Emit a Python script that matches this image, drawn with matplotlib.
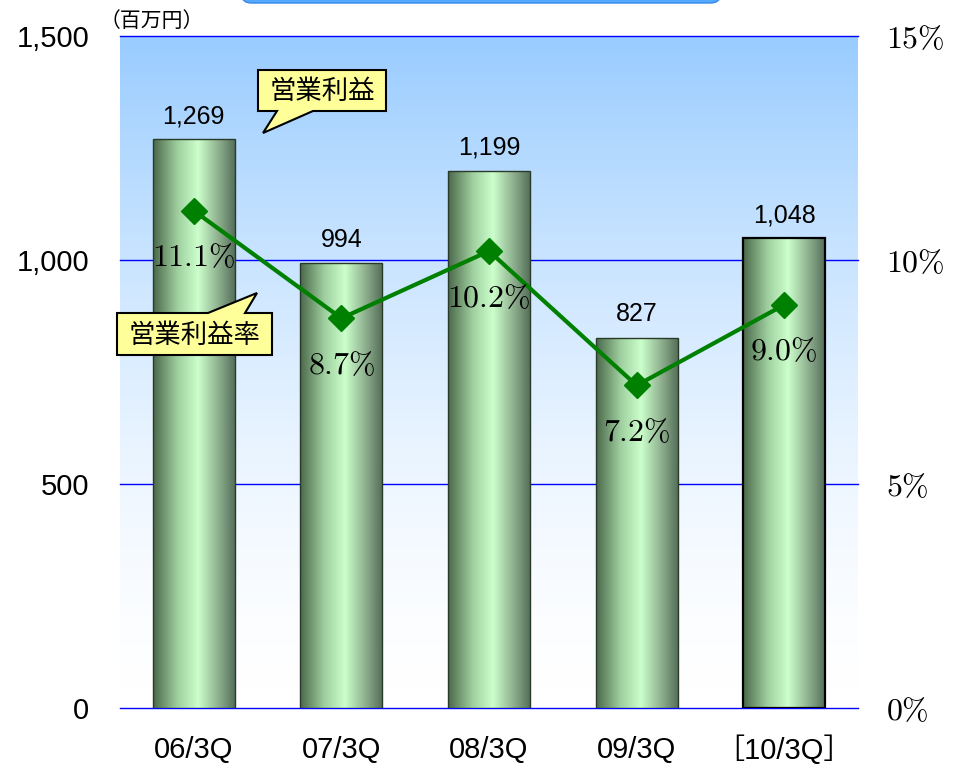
import matplotlib.pyplot as plt
import numpy as np
from matplotlib.patches import Polygon, FancyBboxPatch
from matplotlib.colors import LinearSegmentedColormap

plt.rcParams['mathtext.fontset'] = 'cm'

# data
categories = ["06/3Q", "07/3Q", "08/3Q", "09/3Q", "［10/3Q］"]
profit = [1269, 994, 1199, 827, 1048]
margin = [11.1, 8.7, 10.2, 7.2, 9.0]
profit_labels = ["1,269", "994", "1,199", "827", "1,048"]
left_ticks = [0, 500, 1000, 1500]
left_tick_labels = ["0", "500", "1,000", "1,500"]
right_ticks = [0, 5, 10, 15]

W, H = 968, 769
fig = plt.figure(figsize=(W / 100, H / 100), dpi=100)
ax = fig.add_axes([120 / W, 1 - 708 / H, 738 / W, 672 / H])

def px(x, y):
    return (x / W, 1 - y / H)

# background gradient (white at bottom to light blue at top)
bg = LinearSegmentedColormap.from_list("bg", ["#ffffff", "#99ccff"])
grad = (np.linspace(0, 1, 256) ** 1.6).reshape(-1, 1)
ax.imshow(grad, aspect="auto", cmap=bg, origin="lower", vmin=0, vmax=1,
          extent=[-0.5, 4.5, 0, 1500], zorder=0)

for t in left_ticks:
    ax.axhline(t, color="#0000ff", lw=1, zorder=1, clip_on=False)

# bars with horizontal gradient
barcm = LinearSegmentedColormap.from_list(
    "bar", [(0, "#4a684a"), (0.3, "#9fcf9f"), (0.55, "#ccffcc"),
            (0.8, "#8fb08f"), (1, "#55705a")])
hgrad = np.linspace(0, 1, 256).reshape(1, -1)
bw = 0.555
x = np.arange(len(categories))
bars = ax.bar(x, profit, width=bw, facecolor="none", zorder=3)
for i, b in enumerate(bars):
    im = ax.imshow(hgrad, aspect="auto", cmap=barcm,
                   extent=[b.get_x(), b.get_x() + bw, 0, b.get_height()], zorder=2)
    im.set_clip_path(b)
    last = i == len(bars) - 1
    b.set_edgecolor("#000000" if last else "#2a3a2a")
    b.set_linewidth(1.6 if last else 1)
    ax.annotate(profit_labels[i], (x[i], profit[i]), xytext=(0, 8),
                textcoords="offset points", ha="center", va="bottom",
                fontsize=18, family="Liberation Sans", zorder=5)

ax.set_xlim(-0.5, 4.5)
ax.set_ylim(0, 1500)
ax.set_yticks(left_ticks)
ax.set_yticklabels(left_tick_labels, family="Liberation Sans", fontsize=21)
ax.set_xticks(x)
ax.set_xticklabels(categories, family=["Liberation Sans", "Noto Sans CJK JP"], fontsize=21)
ax.tick_params(length=0)
ax.tick_params(axis="y", pad=22)
ax.tick_params(axis="x", pad=20)
for s in ax.spines.values():
    s.set_visible(False)

# margin line
ax2 = ax.twinx()
ax2.set_ylim(0, 15)
ax2.plot(x, margin, color="#008000", lw=3, marker="D", markersize=13, zorder=4)
for i, v in enumerate(margin):
    ax2.annotate(r"$%.1f\%%$" % v, (x[i], v), xytext=(0, -34),
                 textcoords="offset points", ha="center", va="center",
                 fontsize=23, zorder=5)
ax2.set_yticks(right_ticks)
ax2.set_yticklabels([r"$%d\%%$" % t for t in right_ticks], fontsize=23)
ax2.tick_params(length=0, pad=20)
for s in ax2.spines.values():
    s.set_visible(False)

# unit label
fig.text(*px(100, 21), "（百万円）", family="Noto Sans CJK JP", fontsize=15,
         ha="left", va="center")

# callouts
def callout(box, tip, base, text):
    l, t, r, b = box
    if tip[1] > b:
        pts = [(l, t), (r, t), (r, b), (base[1], b), tip, (base[0], b), (l, b)]
    else:
        pts = [(l, t), (base[0], t), tip, (base[1], t), (r, t), (r, b), (l, b)]
    poly = Polygon([px(*p) for p in pts], closed=True, transform=fig.transFigure,
                   facecolor="#ffff99", edgecolor="black", lw=1.5, zorder=10)
    fig.add_artist(poly)
    fig.text(*px((l + r) / 2, (t + b) / 2 + 1), text, family="Noto Sans CJK JP",
             fontsize=19, ha="center", va="center", zorder=11)

callout((258, 70, 386, 111), (263, 133), (277, 313), "営業利益")
callout((117, 313, 272, 355), (257, 293), (208, 245), "営業利益率")

# blue banner at top edge
fig.add_artist(FancyBboxPatch(px(242, 3), 478 / W, 20 / H,
                              boxstyle="round,pad=0,rounding_size=0.01",
                              transform=fig.transFigure, facecolor="#55aaff",
                              edgecolor="#3388ee", lw=1))

fig.savefig("out.png", dpi=100)
